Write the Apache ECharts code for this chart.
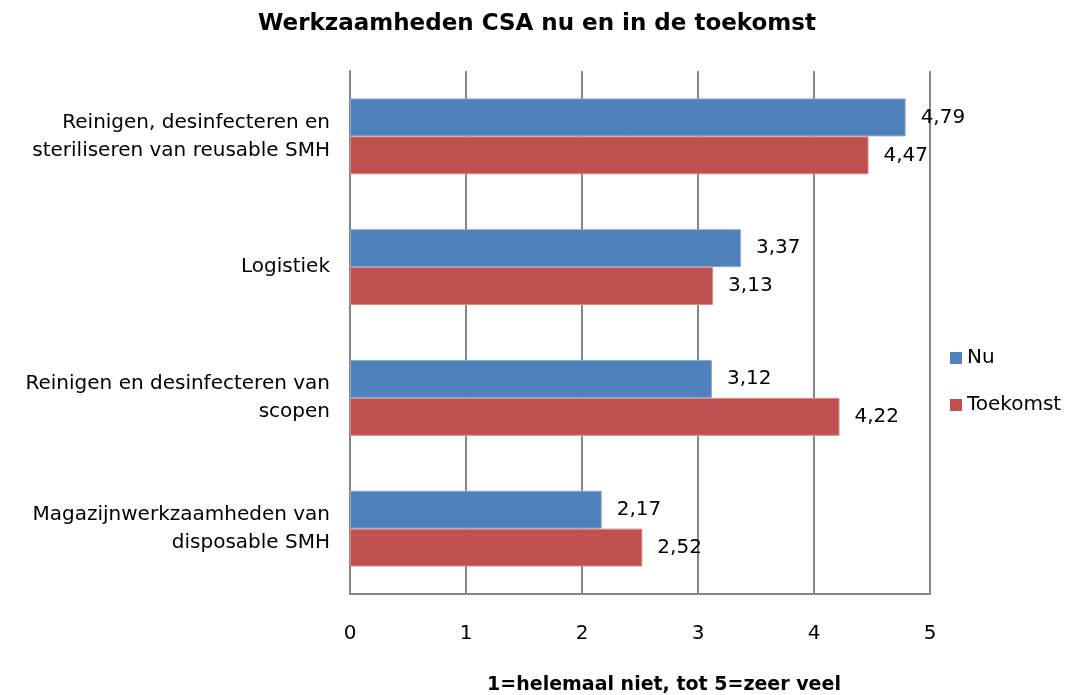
<!DOCTYPE html>
<html><head><meta charset="utf-8">
<script src="https://cdn.jsdelivr.net/npm/echarts@6/dist/echarts.min.js"></script>
<style>html,body{margin:0;padding:0;background:#fff}#c{width:1073px;height:695px}</style>
</head><body><div id="c"></div>
<script>
const categories = ["Reinigen, desinfecteren en\nsteriliseren van reusable SMH", "Logistiek", "Reinigen en desinfecteren van\nscopen", "Magazijnwerkzaamheden van\ndisposable SMH"];
const seriesNames = ["Nu", "Toekomst"];
const nuValues = [4.79, 3.37, 3.12, 2.17];
const toekomstValues = [4.47, 3.13, 4.22, 2.52];
const tickLabels = ["0", "1", "2", "3", "4", "5"];

const FONT = "DejaVu Sans";
const chart = echarts.init(document.getElementById('c'));
const lbl = {show: true, position: 'right', distance: 15, color: '#000', fontSize: 20, fontFamily: FONT,
  formatter: p => p.value.toFixed(2).replace('.', ',')};
chart.setOption({
  animation: false,
  title: {text: 'Werkzaamheden CSA nu en in de toekomst', left: 532, top: 8, textAlign: 'center',
    textStyle: {fontFamily: FONT, fontWeight: 'bold', fontSize: 23, color: '#000'}},
  legend: {orient: 'vertical', left: 945, top: 343, itemWidth: 12, itemHeight: 12, itemGap: 27,
    icon: 'rect', itemStyle: {borderWidth: 0},
    textStyle: {fontFamily: FONT, fontSize: 20, color: '#000', padding: [0,0,0,0]}},
  grid: {left: 350, right: 143, top: 71, bottom: 101, containLabel: false, outerBoundsMode: 'none'},
  xAxis: {type: 'value', min: 0, max: 5, interval: 1,
    axisLine: {show: true, lineStyle: {color: '#868686', width: 2}},
    axisTick: {show: false},
    splitLine: {lineStyle: {color: '#868686', width: 2}},
    axisLabel: {color: '#000', fontSize: 20, fontFamily: FONT, margin: 30, formatter: v => tickLabels[v]},
    name: '1=helemaal niet, tot 5=zeer veel', nameLocation: 'middle', nameGap: 82,
    nameTextStyle: {fontFamily: FONT, fontWeight: 'bold', fontSize: 19, color: '#000', padding: [0, 0, 0, 48]}},
  yAxis: {type: 'category', data: categories, inverse: true,
    axisLine: {show: true, lineStyle: {color: '#868686', width: 2}},
    axisTick: {show: false},
    axisLabel: {color: '#000', fontSize: 20, fontFamily: FONT, margin: 20, lineHeight: 28, align: 'right'}},
  series: [
    {name: seriesNames[0], type: 'bar', data: nuValues, barCategoryGap: '42%', barGap: '0%',
      itemStyle: {color: '#4F81BD', borderColor: '#8EA9CF', borderWidth: 1}, label: lbl},
    {name: seriesNames[1], type: 'bar', data: toekomstValues, barCategoryGap: '42%', barGap: '0%',
      itemStyle: {color: '#C0504D', borderColor: '#D48B8A', borderWidth: 1}, label: lbl}
  ]
});
</script></body></html>
